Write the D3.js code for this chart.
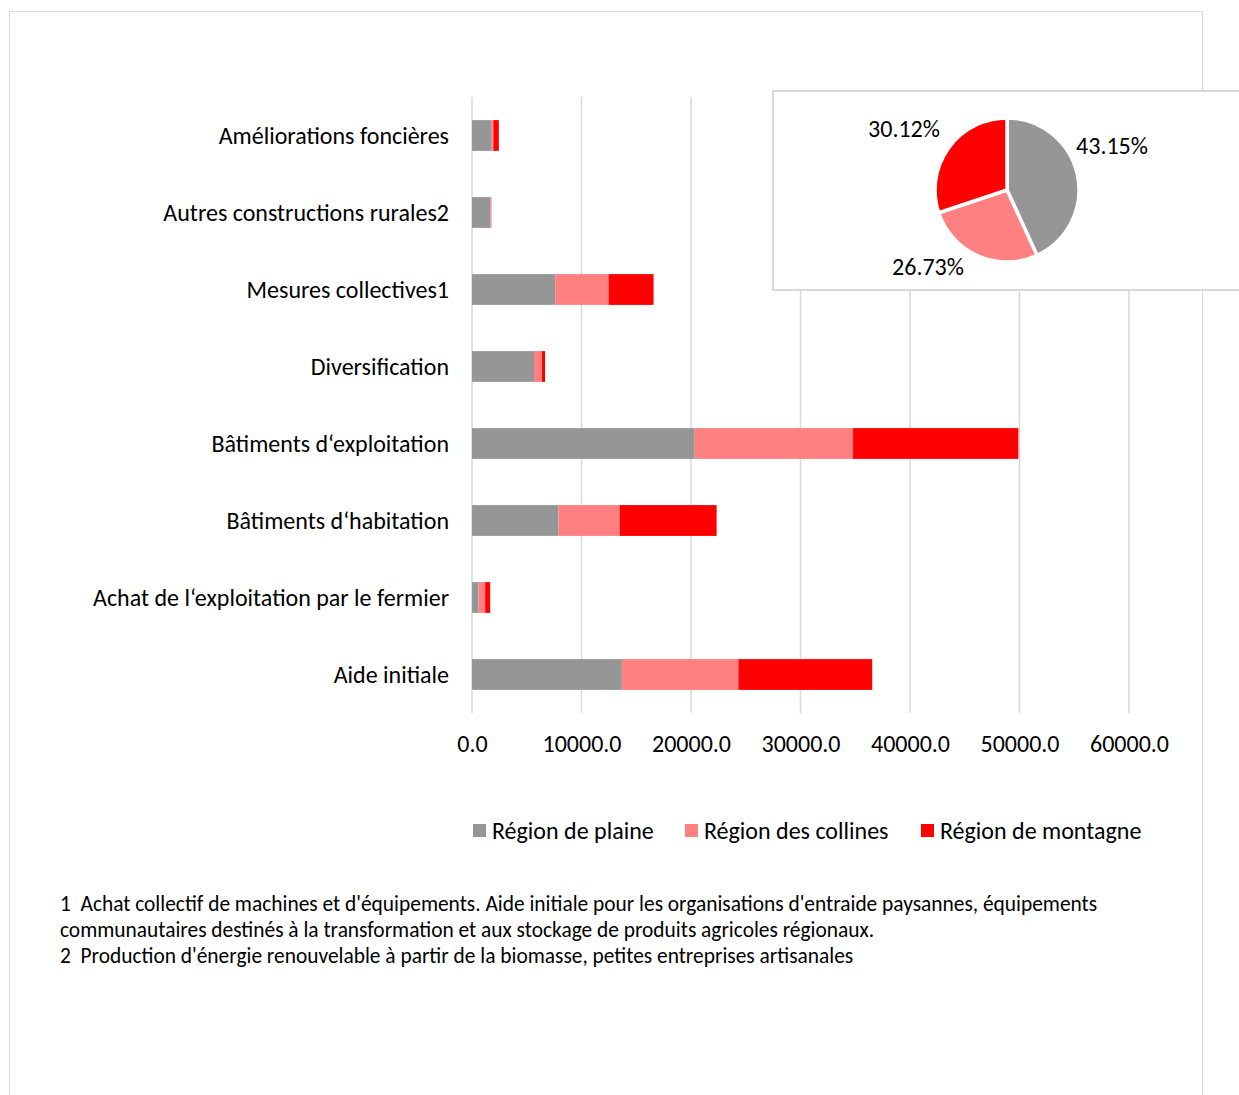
<!DOCTYPE html>
<html>
<head>
<meta charset="utf-8">
<script src="https://cdn.jsdelivr.net/npm/d3@7"></script>
<style>
  html, body { margin: 0; padding: 0; background: #ffffff; }
  svg { display: block; font-family: Carlito, Calibri, Lato, sans-serif; }
</style>
</head>
<body>
<svg id="chart" width="1239" height="1095"></svg>
<script>
// Categories, listed top to bottom
const categories = [
  "Améliorations foncières",
  "Autres constructions rurales2",
  "Mesures collectives1",
  "Diversification",
  "Bâtiments d\u2018exploitation",
  "Bâtiments d\u2018habitation",
  "Achat de l\u2018exploitation par le fermier",
  "Aide initiale"
];

// Series values per category
const seriesNames = ["Région de plaine", "Région des collines", "Région de montagne"];
const plaine    = [1800, 1700, 7600, 5660, 20340, 7910, 600, 13690];
const collines  = [150,    50, 4870,  730, 14460, 5570, 600, 10640];
const montagne  = [500,    20, 4110,  280, 15100, 8860, 460, 12220];

// Shares of the total per region (pie)
const pieShares = [43.15, 26.73, 30.12];
const pieLabels = ["43.15%", "26.73%", "30.12%"];

// Axis ticks
const xTicks = [0, 10000, 20000, 30000, 40000, 50000, 60000];

const footnotes = [
  "1  Achat collectif de machines et d'équipements. Aide initiale pour les organisations d'entraide paysannes, équipements",
  "communautaires destinés à la transformation et aux stockage de produits agricoles régionaux.",
  "2  Production d'énergie renouvelable à partir de la biomasse, petites entreprises artisanales"
];

const colors = ["#969696", "#ff8080", "#ff0000"];
const gridColor = "#d9d9d9";
const fontSize = 24;

const svg = d3.select("#chart");
svg.append("rect").attr("width", 1239).attr("height", 1095).attr("fill", "#fff");

// outer frame
svg.append("rect")
  .attr("x", 9.5).attr("y", 11.5).attr("width", 1193).attr("height", 1100)
  .attr("fill", "none").attr("stroke", gridColor).attr("stroke-width", 1);

// ---- bar chart ----
const x = d3.scaleLinear().domain([0, 60000]).range([472, 1129]);
const y = d3.scaleBand().domain(categories).range([97, 713]).paddingInner(0.6).paddingOuter(0.3);

// gridlines
svg.append("g").selectAll("line").data(xTicks).join("line")
  .attr("x1", d => x(d)).attr("x2", d => x(d))
  .attr("y1", 97).attr("y2", 713)
  .attr("stroke", gridColor).attr("stroke-width", 1.5);

// stacked bars
const rows = categories.map((c, i) => ({ cat: c, plaine: plaine[i], collines: collines[i], montagne: montagne[i] }));
const stack = d3.stack().keys(["plaine", "collines", "montagne"]);
const layers = stack(rows);

svg.append("g").selectAll("g").data(layers).join("g")
  .attr("fill", (d, i) => colors[i])
  .selectAll("rect").data(d => d).join("rect")
    .attr("x", d => x(d[0]))
    .attr("width", d => Math.max(0, x(d[1]) - x(d[0])))
    .attr("y", d => y(d.data.cat))
    .attr("height", y.bandwidth());

// category labels
svg.append("g").selectAll("text").data(categories).join("text")
  .attr("x", 449).attr("y", d => y(d) + y.bandwidth() / 2)
  .attr("dy", "0.35em").attr("text-anchor", "end")
  .attr("font-size", fontSize).attr("fill", "#000")
  .text(d => d);

// x axis tick labels
const xAxis = d3.axisBottom(x).tickValues(xTicks).tickSize(0).tickPadding(0)
  .tickFormat(d => d3.format(".1f")(d));
const gx = svg.append("g").attr("transform", "translate(0,735)").call(xAxis);
gx.select(".domain").remove();
gx.selectAll("text").attr("font-size", fontSize).attr("fill", "#000")
  .attr("font-family", "Carlito, Calibri, Lato, sans-serif");

// legend
const legendX = [473, 685, 921];
const legend = svg.append("g").selectAll("g").data(seriesNames).join("g")
  .attr("transform", (d, i) => `translate(${legendX[i]},824)`);
legend.append("rect").attr("width", 13).attr("height", 13).attr("fill", (d, i) => colors[i]);
legend.append("text").attr("x", 19).attr("y", 7).attr("dy", "0.35em")
  .attr("font-size", fontSize).attr("fill", "#000").text(d => d);

// footnotes
svg.append("g").selectAll("text").data(footnotes).join("text")
  .attr("x", 60).attr("y", (d, i) => 904 + i * 26).attr("dy", "0.35em")
  .attr("font-size", 21.4).attr("fill", "#000")
  .style("white-space", "pre")
  .text(d => d);

// ---- pie inset ----
svg.append("rect")
  .attr("x", 773).attr("y", 91).attr("width", 480).attr("height", 199)
  .attr("fill", "#fff").attr("stroke", gridColor).attr("stroke-width", 2);

const pcx = 1007, pcy = 190, pr = 72;
const pie = d3.pie().sort(null).value(d => d)(pieShares);
const arc = d3.arc().innerRadius(0).outerRadius(pr);
const pg = svg.append("g").attr("transform", `translate(${pcx},${pcy})`);
pg.selectAll("path").data(pie).join("path")
  .attr("d", arc).attr("fill", (d, i) => colors[i])
  .attr("stroke", "#fff").attr("stroke-width", 3.5).attr("stroke-linejoin", "round");

// data labels for the slices
const labelOffsets = [[105, -44], [-79, 77], [-103, -61]];
pg.selectAll("text").data(pie).join("text")
  .attr("x", (d, i) => labelOffsets[i][0]).attr("y", (d, i) => labelOffsets[i][1])
  .attr("dy", "0.35em").attr("text-anchor", "middle")
  .attr("font-size", fontSize).attr("fill", "#000")
  .text((d, i) => pieLabels[i]);
</script>
</body>
</html>
